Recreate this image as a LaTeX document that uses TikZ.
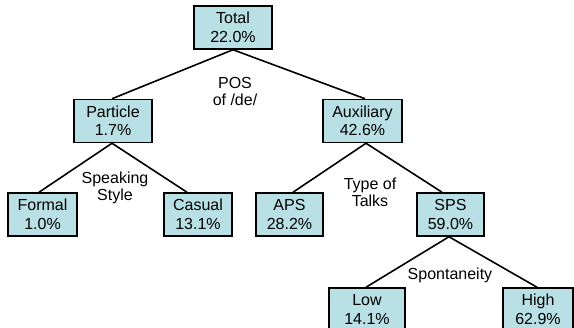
\documentclass[tikz,border=0pt]{standalone}
\usepackage{fontspec}
\setmainfont{Liberation Sans}
\definecolor{boxfill}{RGB}{185,225,229}
\tikzset{
  catbox/.style={draw=black, line width=1.5pt, fill=boxfill, align=center, inner sep=0pt,
    minimum height=43pt, font=\fontsize{16}{18.5}\selectfont},
  lbl/.style={align=center, inner sep=0pt, font=\fontsize{16}{17}\selectfont},
  link/.style={line width=1.6pt, draw=black}
}
\begin{document}
\begin{tikzpicture}[x=1pt,y=-1pt]
\useasboundingbox (0,0) rectangle (574,328);
\node[catbox, minimum width=78pt] (total) at (233,27.5) {Total\\22.0\%};
\node[catbox, minimum width=78pt] (particle) at (113,121) {Particle\\1.7\%};
\node[catbox, minimum width=79pt] (aux) at (362.5,121) {Auxiliary\\42.6\%};
\node[catbox, minimum width=69pt] (formal) at (42.5,214.5) {Formal\\1.0\%};
\node[catbox, minimum width=68pt] (casual) at (198,214.5) {Casual\\13.1\%};
\node[catbox, minimum width=67pt] (aps) at (289.5,214.5) {APS\\28.2\%};
\node[catbox, minimum width=67pt] (sps) at (450.5,214.5) {SPS\\59.0\%};
\node[catbox, minimum width=76pt] (low) at (367,309.5) {Low\\14.1\%};
\node[catbox, minimum width=70pt] (high) at (538,309.5) {High\\62.9\%};

\node[lbl] (pos) at (235,91) {POS\\of /de/};
\node[lbl] (style) at (115,187.5) {Speaking\\Style};
\node[lbl] (talks) at (370,192) {Type of\\Talks};
\node[lbl] (spont) at (450,275) {Spontaneity};

\draw[link] (total.south) -- ([xshift=-1pt]particle.north);
\draw[link] (total.south) -- ([xshift=2.5pt]aux.north);
\draw[link] ([xshift=-1pt]particle.south) -- ([xshift=-3.5pt]formal.north);
\draw[link] ([xshift=-1pt]particle.south) -- ([xshift=-11pt]casual.north);
\draw[link] ([xshift=3.5pt]aux.south) -- ([xshift=3.5pt]aps.north);
\draw[link] ([xshift=3.5pt]aux.south) -- ([xshift=-8.5pt]sps.north);
\draw[link] ([xshift=-1.5pt]sps.south) -- ([xshift=-1pt]low.north);
\draw[link] ([xshift=-1.5pt]sps.south) -- ([xshift=-1pt]high.north);
\end{tikzpicture}
\end{document}
